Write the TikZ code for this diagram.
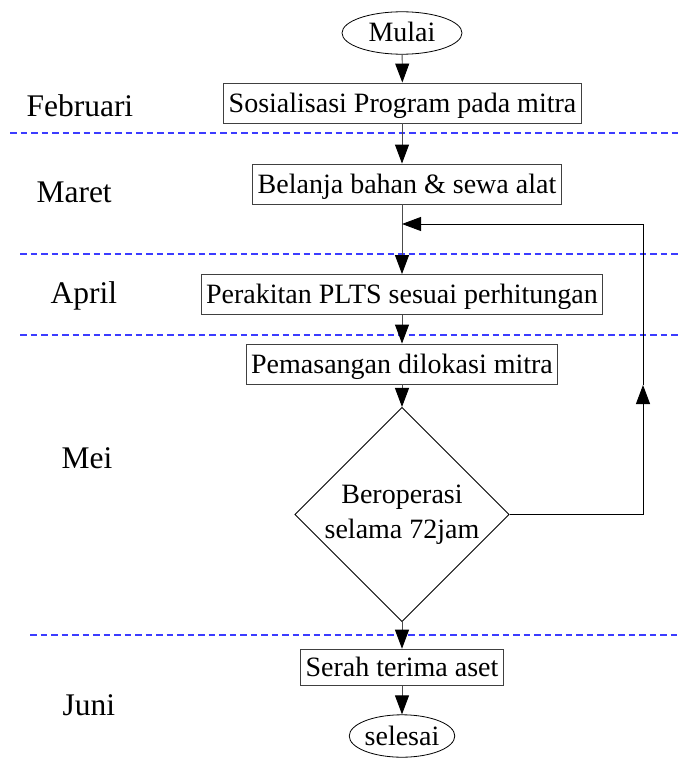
\documentclass[tikz,border=0pt]{standalone}
\usepackage{fontspec}
\setmainfont{Liberation Serif}
\usetikzlibrary{arrows, arrows.meta, shapes, shapes.geometric}
\definecolor{sepblue}{RGB}{60,60,255}

\begin{document}
\begin{tikzpicture}[x=1pt, y=-1pt, font=\fontsize{28}{35}\selectfont,
	box/.style={draw=black!75, line width=0.9pt, inner xsep=5pt, minimum height=40pt, text height=24pt, text depth=6pt},
	term/.style={draw=black, ellipse, line width=0.8pt, inner sep=0pt, minimum height=40pt, text height=24pt, text depth=6pt},
	flow/.style={draw=black!70, line width=0.9pt, -{Triangle[length=19pt,width=14pt,color=black]}},
	month/.style={anchor=base west, font=\fontsize{31.5}{36}\selectfont},
	sep/.style={draw=sepblue, dash pattern=on 6.5pt off 4pt, line width=1.1pt}]
	\useasboundingbox (0,0) rectangle (680,760);
	
	\foreach \y/\x in {133/10, 254/20, 335/20, 635/30} {
		\draw[sep] (\x,\y) -- (680,\y);
	}
	
	\node[month] (feb) at (23,116) {Februari};
	\node[month] (mar) at (33,202) {Maret};
	\node[month] (apr) at (47,303) {April};
	\node[month] (mei) at (58,468) {Mei};
	\node[month] (jun) at (59,715) {Juni};
	
	\node[term, minimum width=120pt] (mulai) at (402,33) {Mulai};
	\node[box] (sos) at (402.5,103) {Sosialisasi Program pada mitra};
	\node[box] (bel) at (407,184) {Belanja bahan \& sewa alat};
	\node[box] (per) at (402,294.5) {Perakitan PLTS sesuai perhitungan};
	\node[box] (pem) at (402,364) {Pemasangan dilokasi mitra};
	\node[draw=black, line width=0.8pt, diamond, aspect=1, minimum width=199pt, minimum height=199pt, inner sep=0pt, align=center] (ops) at (402,514.5) {Beroperasi\\selama 72jam};
	\node[box, minimum height=35pt] (ser) at (402,667.5) {Serah terima aset};
	\node[term, minimum width=102pt] (end) at (402,736) {selesai};
	
	\coordinate (up) at (643,385);
	\coordinate (join) at (402,224);
	
	\draw[flow] (mulai) -- (sos);
	\draw[flow] (sos.south -| mulai) -- (bel.north -| mulai);
	\draw[flow] (per.north |- bel.south) -- (per.north);
	\draw[flow] (per) -- (pem);
	\draw[flow] (pem) -- (ops);
	\draw[flow] (ops) -- (ser);
	\draw[flow] (ser) -- (end);
	
	% back to assembly when the test fails
	\draw[flow, draw=black] (ops.east) -| (up);
	\draw[flow, draw=black] (up) |- (join);
\end{tikzpicture}
\end{document}
